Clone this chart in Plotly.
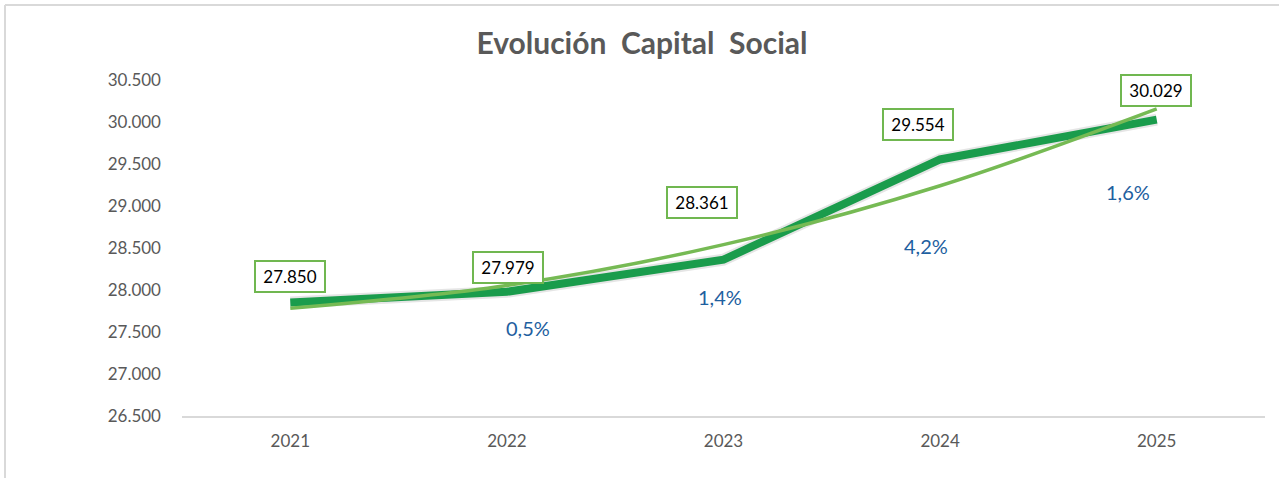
import numpy as np
import plotly.graph_objects as go

years = ["2021", "2022", "2023", "2024", "2025"]
capital = [27850, 27979, 28361, 29554, 30029]
growth_labels = ["0,5%", "1,4%", "4,2%", "1,6%"]
y_ticks = [26500, 27000, 27500, 28000, 28500, 29000, 29500, 30000, 30500]

# layout offsets (pixels) for labels
label_offsets = [(0, -26), (1, -24), (-22, -57), (-22, -35), (-1, -29)]
growth_offsets = [(21, 36), (-4, 37), (-14, 87), (-29, 72)]

FONT = "Lato"
MAIN = "rgb(26,156,76)"
TREND = "rgb(118,186,84)"
BOX = "rgb(112,183,80)"
BLUE = "rgb(30,96,160)"
GRAY = "#595959"

def fmt(v):
    return f"{v:,}".replace(",", ".")

# polynomial (order 2) trendline fitted on the data, as in the original chart
xi = np.arange(len(capital))
coef = np.polyfit(xi, capital, 2)
trend = [float(t) for t in np.polyval(coef, xi)]

fig = go.Figure()
fig.add_trace(go.Scatter(x=years, y=capital, mode="lines",
                         line=dict(color="rgba(0,0,0,0.10)", width=12),
                         hoverinfo="skip", showlegend=False))
fig.add_trace(go.Scatter(x=years, y=capital, mode="lines",
                         line=dict(color=MAIN, width=8),
                         showlegend=False))
fig.add_trace(go.Scatter(x=years, y=trend, mode="lines",
                         line=dict(color=TREND, width=3.5, shape="spline"),
                         showlegend=False))

annotations = []
for i, (v, (dx, dy)) in enumerate(zip(capital, label_offsets)):
    annotations.append(dict(x=i, y=v, xref="x", yref="y", text=fmt(v),
                            showarrow=False, xshift=dx, yshift=-dy,
                            font=dict(family=FONT, size=17, color="black"),
                            bgcolor="white", bordercolor=BOX, borderwidth=2,
                            borderpad=4, width=60))
for i, (v, txt, (dx, dy)) in enumerate(zip(capital[1:], growth_labels, growth_offsets), start=1):
    annotations.append(dict(x=i, y=v, xref="x", yref="y", text=txt,
                            showarrow=False, xshift=dx, yshift=-dy,
                            font=dict(family=FONT, size=20, color=BLUE)))

fig.update_layout(
    width=1279, height=478,
    margin=dict(l=182, r=14, t=80, b=62),
    paper_bgcolor="white", plot_bgcolor="white",
    title=dict(text="<b>Evolución  Capital  Social</b>", x=642 / 1279, xref="container",
               xanchor="center", y=1 - 43 / 478, yanchor="middle",
               font=dict(family=FONT, size=30, color=GRAY)),
    annotations=annotations,
    shapes=[
        dict(type="line", xref="paper", yref="paper",
             x0=(5 - 182) / 1083, x1=(1279 - 182) / 1083,
             y0=(416 - 5) / 336, y1=(416 - 5) / 336,
             line=dict(color="#D9D9D9", width=2)),
        dict(type="line", xref="paper", yref="paper",
             x0=(5 - 182) / 1083, x1=(5 - 182) / 1083,
             y0=(416 - 5) / 336, y1=(416 - 480) / 336,
             line=dict(color="#D9D9D9", width=2)),
    ],
)
fig.update_xaxes(type="category", range=[-0.5, 4.5], showgrid=False,
                 showline=True, linecolor="#D9D9D9", linewidth=2,
                 ticks="", ticklabelstandoff=9,
                 tickfont=dict(family=FONT, size=17, color=GRAY))
fig.update_yaxes(range=[26500, 30500], tickvals=y_ticks,
                 ticktext=[fmt(t) for t in y_ticks], showgrid=False,
                 zeroline=False, showline=False, ticks="",
                 ticklabelstandoff=20,
                 tickfont=dict(family=FONT, size=17, color=GRAY))

fig.write_html("out.html")
